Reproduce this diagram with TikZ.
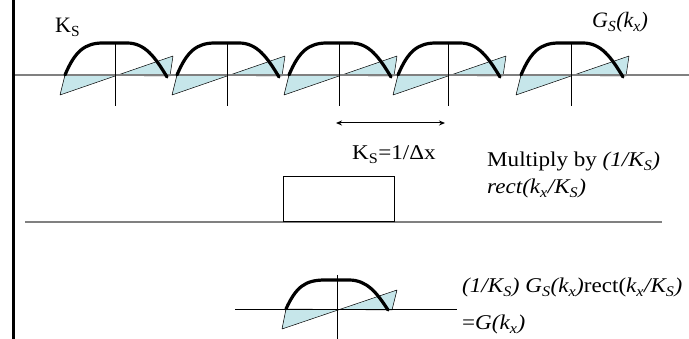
\documentclass[tikz,border=0pt]{standalone}
\usepackage{fontspec}
\setmainfont{Liberation Serif}
\newfontfamily\widefont{Liberation Serif}[FakeStretch=1.1]
\usetikzlibrary{arrows.meta}
\definecolor{fillblue}{RGB}{198,230,234}
\begin{document}
\begin{tikzpicture}[x=1pt,y=-1pt,
  axisline/.style={draw=gray,line width=1.2pt},
  tickline/.style={draw=black,line width=0.8pt},
  bump/.style={draw=black,line width=3.2pt,line cap=round},
  tri/.style={fill=fillblue,draw=black,line width=0.5pt,line join=round},
  lbl/.style={anchor=base west,inner sep=0pt,font=\widefont\fontsize{21}{25}\selectfont},
  biglbl/.style={anchor=base west,inner sep=0pt,font=\fontsize{22}{26}\selectfont}]
\useasboundingbox[fill=white] (0,0) rectangle (689,339);
% top row: triangles
\foreach \c in {115,227,339,448,571}{
  \begin{scope}[shift={(\c,75)}]
    \path[tri] (-50,0) -- (-55,20) -- (58,-19) -- (55,1) -- cycle;
  \end{scope}
}
% top axis
\coordinate (ta1) at (13,75);
\coordinate (ta2) at (689,75);
\draw[axisline] (ta1) -- (ta2);
\foreach \c in {115,227,339,448,571}{
  \begin{scope}[shift={(\c,75)}]
    \draw[tickline] (0,-32) -- (0,31);
    \draw[bump] (-50,0) .. controls (-40,-24) and (-30,-32) .. (-12,-32) -- (12,-32)
       .. controls (30,-32) and (40,-18) .. (52,2);
  \end{scope}
}
% left border
\coordinate (lb1) at (13.5,0);
\coordinate (lb2) at (13.5,339);
\draw[line width=2.5pt] (lb1) -- (lb2);
% double arrow
\coordinate (ar1) at (336,123);
\coordinate (ar2) at (445,123);
\draw[{Stealth[length=6pt,width=5pt]}-{Stealth[length=6pt,width=5pt]},line width=1pt] (ar1) -- (ar2);
% middle axis and rect
\coordinate (ma1) at (25,222);
\coordinate (ma2) at (662,222);
\draw[axisline] (ma1) -- (ma2);
\node[draw=black,line width=1.3pt,minimum width=111pt,minimum height=45pt,inner sep=0pt,anchor=south west] (rectbox) at (283,222) {};
% bottom copy
\begin{scope}[shift={(337,309)}]
  \path[tri] (-51,0) -- (-55,20) -- (60,-19) -- (55,1) -- cycle;
\end{scope}
\coordinate (ba1) at (235,309);
\coordinate (ba2) at (457,309);
\draw[draw=black,line width=0.8pt] (ba1) -- (ba2);
\begin{scope}[shift={(337,309)}]
  \draw[tickline] (0,-34) -- (0,30);
  \draw[bump] (-51,0) .. controls (-41,-22) and (-32,-29) .. (-12,-29) -- (12,-29)
     .. controls (30,-29) and (40,-16) .. (51,1);
\end{scope}
% labels
\node[biglbl] (ks) at (55,33) {K\textsubscript{S}};
\node[biglbl] (gs) at (592,28) {\textit{G\textsubscript{S}(k\textsubscript{x})}};
\node[lbl] (ksdx) at (352,160) {K\textsubscript{S}=1/Δx};
\node[lbl] (mult) at (487,167) {Multiply by \textit{(1/K\textsubscript{S})}};
\node[lbl] (rect) at (487,194) {\textit{rect(k\textsubscript{x}/K\textsubscript{S})}};
\node[lbl] (res1) at (462,293) {\textit{(1/K\textsubscript{S})} \textit{G\textsubscript{S}(k\textsubscript{x})}rect(\textit{k\textsubscript{x}/K\textsubscript{S})}};
\node[lbl] (res2) at (462,330) {=\textit{G(k\textsubscript{x})}};
\end{tikzpicture}
\end{document}
